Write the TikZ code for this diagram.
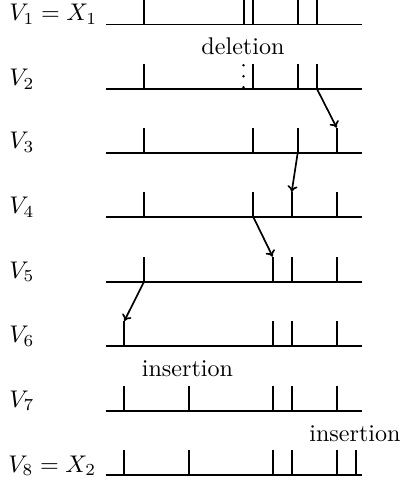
\documentclass[tikz,border=0pt]{standalone}
\usetikzlibrary{arrows.meta}
\begin{document}
\begin{tikzpicture}[x=0.4149pt,y=-0.4149pt,
  seqline/.style={line width=0.7pt},
  tickmark/.style={line width=0.7pt},
  gone/.style={line width=1.15pt, line cap=round, dash pattern=on 0pt off 4.56pt},
  move/.style={line width=0.7pt,-{To[length=2.6pt,width=4.2pt]}},
  lbl/.style={anchor=base west, inner sep=0pt},
  note/.style={anchor=base, inner sep=0pt}]
\useasboundingbox (0,0) rectangle (403,484);
\foreach \r/\y/\xs in {1/24.5/{144,243.7,253.3,297.7,317},
                      2/89/{144,253.3,297.7,317},
                      3/152.7/{144,253.3,297.7,336.7},
                      4/217/{144,253.3,291.7,336.7},
                      5/281.7/{144,272.7,291.7,336.7},
                      6/346/{124.3,272.7,291.7,336.7},
                      7/410.7/{124.3,189,272.7,291.7,337},
                      8/475.3/{124.3,189,272.7,291.7,337,356}}{
  \coordinate (L\r) at (106,\y);
  \coordinate (R\r) at (362,\y);
  \draw[seqline] (L\r) -- (R\r);
  \foreach \x [count=\i] in \xs {
    \coordinate (b\r-\i) at (\x,\y);
    \coordinate (t\r-\i) at (\x,\y-25);
    \draw[tickmark] (b\r-\i) -- (t\r-\i);
  }
}
% deleted event on V2
\coordinate (db) at (243.5,87.3);
\coordinate (dt) at (243.5,62);
\draw[gone] (db) -- (dt);
% labels
\node[lbl] (l1) at (9,21) {$V_1 = X_1$};
\node[lbl] (l2) at (9,86) {$V_2$};
\node[lbl] (l3) at (9,149) {$V_3$};
\node[lbl] (l4) at (9,213.5) {$V_4$};
\node[lbl] (l5) at (9,278) {$V_5$};
\node[lbl] (l6) at (9,342.5) {$V_6$};
\node[lbl] (l7) at (9,407) {$V_7$};
\node[lbl] (l8) at (8,472) {$V_8 = X_2$};
\node[note] (del) at (243,55) {deletion};
\node[note] (ins1) at (187.5,376.5) {insertion};
\node[note] (ins2) at (355,441.5) {insertion};
% moves
\draw[move] (b2-4) -- (t3-4);
\draw[move] (b3-3) -- (t4-3);
\draw[move] (b4-2) -- (t5-2);
\draw[move] (b5-1) -- (t6-1);
\end{tikzpicture}
\end{document}
